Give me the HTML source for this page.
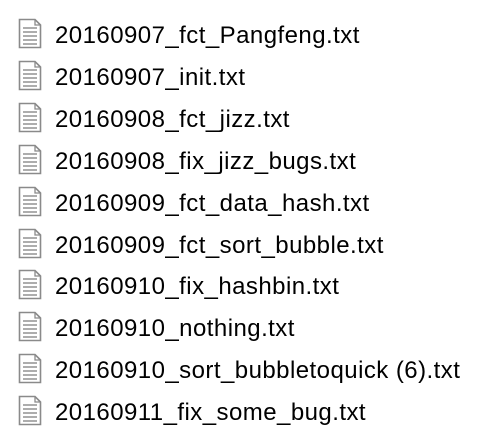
<!DOCTYPE html>
<html><head><style>
html,body{margin:0;padding:0;background:#fff;width:483px;height:441px;overflow:hidden}
.r{position:absolute;left:0;height:42px;width:483px}
.i{position:absolute;left:18px;top:0;width:24px;height:31px}
.t{position:absolute;left:55px;top:2px;font:24px "Liberation Sans",sans-serif;letter-spacing:0.45px;color:#000;white-space:nowrap;line-height:31px}
</style></head><body>
<svg width="0" height="0" style="position:absolute"><defs><symbol id="f" viewBox="0 0 24 31"><path d="M1.5 1.5H17L22.5 7V29.5H1.5Z" fill="#fff" stroke="#8a8a8a" stroke-width="1.6"/><path d="M17 1.5V7H22.5" fill="none" stroke="#8a8a8a" stroke-width="1.3"/><g stroke="#8a8a8a" stroke-width="1.4"><line x1="5" y1="10" x2="19" y2="10"/><line x1="5" y1="14" x2="19" y2="14"/><line x1="5" y1="18" x2="19" y2="18"/><line x1="5" y1="22" x2="19" y2="22"/><line x1="5" y1="26" x2="19" y2="26"/></g></symbol></defs></svg>
<div class="r" style="top:18px"><svg class="i"><use href="#f"/></svg><div class="t">20160907_fct_Pangfeng.txt</div></div>
<div class="r" style="top:60px"><svg class="i"><use href="#f"/></svg><div class="t">20160907_init.txt</div></div>
<div class="r" style="top:102px"><svg class="i"><use href="#f"/></svg><div class="t">20160908_fct_jizz.txt</div></div>
<div class="r" style="top:144px"><svg class="i"><use href="#f"/></svg><div class="t">20160908_fix_jizz_bugs.txt</div></div>
<div class="r" style="top:186px"><svg class="i"><use href="#f"/></svg><div class="t">20160909_fct_data_hash.txt</div></div>
<div class="r" style="top:228px"><svg class="i"><use href="#f"/></svg><div class="t">20160909_fct_sort_bubble.txt</div></div>
<div class="r" style="top:269px"><svg class="i"><use href="#f"/></svg><div class="t">20160910_fix_hashbin.txt</div></div>
<div class="r" style="top:311px"><svg class="i"><use href="#f"/></svg><div class="t">20160910_nothing.txt</div></div>
<div class="r" style="top:353px"><svg class="i"><use href="#f"/></svg><div class="t">20160910_sort_bubbletoquick (6).txt</div></div>
<div class="r" style="top:395px"><svg class="i"><use href="#f"/></svg><div class="t">20160911_fix_some_bug.txt</div></div>
</body></html>
